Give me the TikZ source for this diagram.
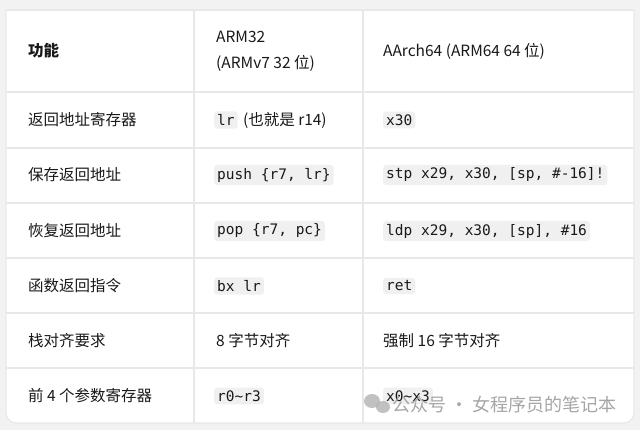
\documentclass[tikz,border=0pt]{standalone}
\usepackage{fontspec}
\setmainfont{Noto Sans CJK SC}
\newfontfamily\codef{DejaVu Sans Mono}
\begin{document}
\begin{tikzpicture}[x=1pt,y=-1pt,
  txt/.style={anchor=west,inner sep=0pt,font=\fontsize{15.5}{18}\selectfont,text=black!90},
  code/.style={anchor=west,inner sep=3pt,fill=black!6,rounded corners=3pt,font=\codef\fontsize{14.5}{16}\selectfont,text=black!90},
  grid/.style={draw=black!9,line width=1.2pt}]
\useasboundingbox (0,0) rectangle (640,430);
\fill[black!5] (0,0) rectangle (640,430);
\fill[white,rounded corners=10pt] (6,-20) rectangle (634,423);
\draw[grid,rounded corners=10pt] (6,-20) -- (6,423) -- (634,423) -- (634,-20);
\fill[black!5] (0,0) rectangle (640,10);
\draw[grid] (6,10) -- (634,10);
\foreach \y in {92,148,203,258,313,368} \draw[grid] (6,\y) -- (634,\y);
\draw[grid] (194,10) -- (194,423);
\draw[grid] (363,10) -- (363,423);
% header
\node[txt,font=\bfseries\fontsize{15.5}{18}\selectfont] (h1) at (28,51) {功能};
\node[txt,align=left,font=\fontsize{15.5}{26}\selectfont] (h2) at (216,51) {ARM32\\(ARMv7 32 位)};
\node[txt] (h3) at (383,51) {AArch64 (ARM64 64 位)};
% rows
\node[txt] (a1) at (28,120) {返回地址寄存器};
\node[code] (b1) at (214,120) {lr};
\node[txt] (b1t) at (b1.east) [xshift=5pt] {(也就是 r14)};
\node[code] (c1) at (383,120) {x30};
\node[txt] (a2) at (28,175) {保存返回地址};
\node[code] (b2) at (214,175) {push \{r7, lr\}};
\node[code] (c2) at (383,175) {stp x29, x30, [sp, \#-16]!};
\node[txt] (a3) at (28,231) {恢复返回地址};
\node[code] (b3) at (214,231) {pop \{r7, pc\}};
\node[code] (c3) at (383,231) {ldp x29, x30, [sp], \#16};
\node[txt] (a4) at (28,286) {函数返回指令};
\node[code] (b4) at (214,286) {bx lr};
\node[code] (c4) at (383,286) {ret};
\node[txt] (a5) at (28,341) {栈对齐要求};
\node[txt] (b5) at (216,341) {8 字节对齐};
\node[txt] (c5) at (383,341) {强制 16 字节对齐};
\node[txt] (a6) at (28,396) {前 4 个参数寄存器};
\node[code] (b6) at (214,396) {r0\textasciitilde r3};
\node[code] (c6) at (383,396) {x0\textasciitilde x3};
% watermark
\fill[black!30,opacity=0.8] (372,401) ellipse (8 and 7);
\fill[black!30,opacity=0.8] (383,407) ellipse (7 and 6);
\node[txt,text=black!35,font=\fontsize{18}{20}\selectfont] (wm) at (392,405) {公众号 · 女程序员的笔记本};
\end{tikzpicture}
\end{document}
